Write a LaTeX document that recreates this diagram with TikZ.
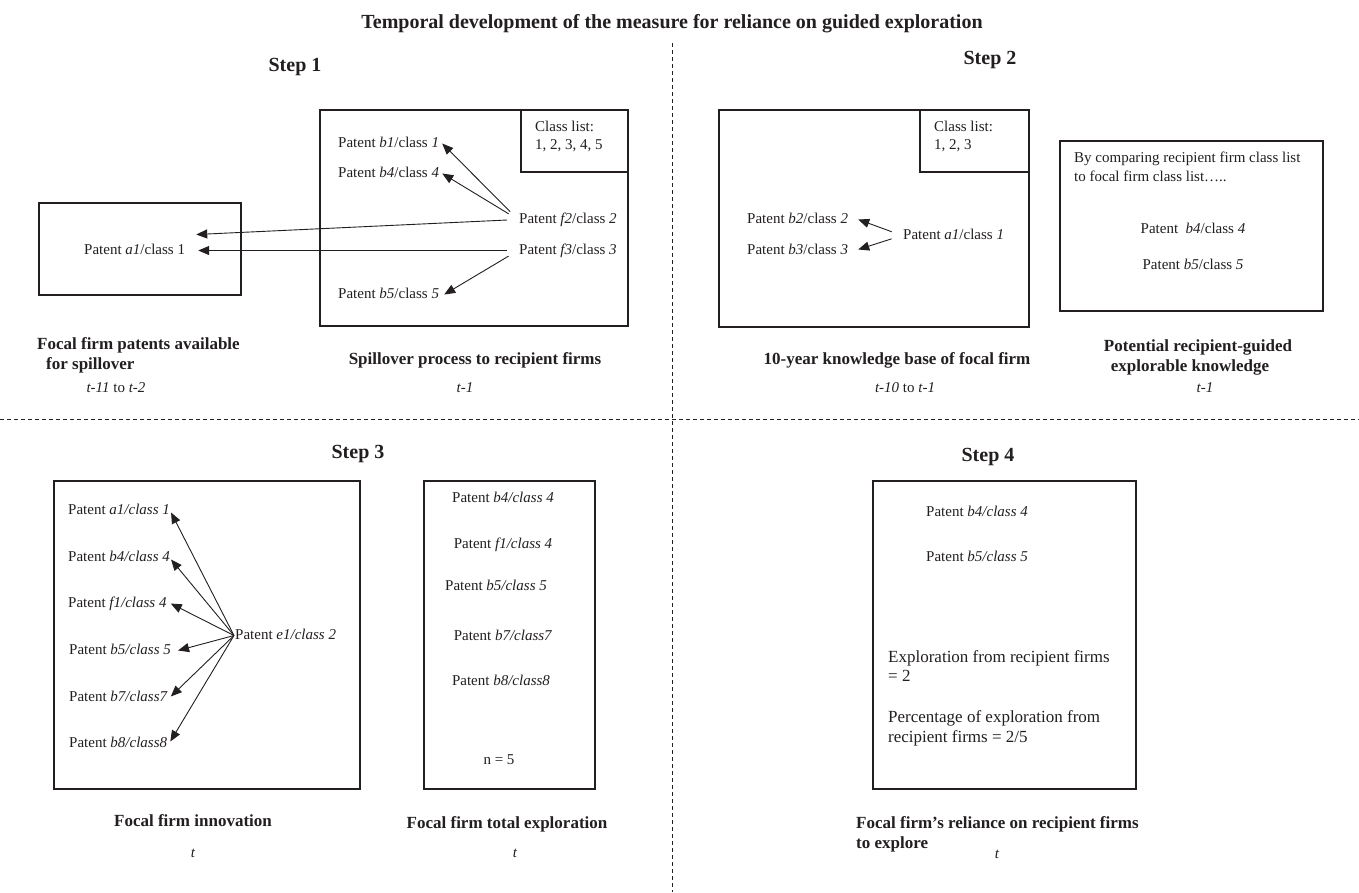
\documentclass[tikz,border=0pt]{standalone}
\usepackage{fontspec}
\setmainfont{Liberation Serif}
\usetikzlibrary{arrows.meta,calc}
\definecolor{ink}{RGB}{35,31,32}
\newcommand\ftxt{\fontsize{15}{18}\selectfont}
\newcommand\fbig{\fontsize{17}{20}\selectfont}
\newcommand\flab{\bfseries\fontsize{17}{20}\selectfont}
\newcommand\fhead{\bfseries\fontsize{20}{24}\selectfont}
\tikzset{
  tx/.style={font=\ftxt, text=ink, inner sep=1pt, text height=10.5pt, text depth=3.5pt},
  bigtx/.style={font=\fbig, text=ink, inner sep=1pt},
  lab/.style={font=\flab, text=ink, inner sep=1pt},
  head/.style={font=\fhead, text=ink, inner sep=1pt},
  frame/.style={draw=ink, line width=1.1pt},
  arr/.style={draw=ink, line width=0.9pt, -{Triangle[length=11pt,width=9pt]}},
  sepline/.style={draw=ink, line width=0.7pt, dash pattern=on 4pt off 3pt}
}
\begin{document}
\begin{tikzpicture}[x=1pt,y=-1pt]
\useasboundingbox[fill=white] (0,0) rectangle (1359,892);

% separators
\draw[sepline] (672,43) -- (672,892);
\draw[sepline] (0,419) -- (1359,419);

% title and step headings
\node[head, anchor=base] (title) at (672,28) {Temporal development of the measure for reliance on guided exploration};
\node[head, anchor=base] (step1) at (295,71) {Step 1};
\node[head, anchor=base] (step2) at (990,64) {Step 2};
\node[head, anchor=base] (step3) at (358,458) {Step 3};
\node[head, anchor=base] (step4) at (988,461) {Step 4};

% ---------------- Step 1 ----------------
\draw[frame] (39,203) rectangle (241,295);
\draw[frame] (320,110) rectangle (628,326);
\draw[frame] (521,110) rectangle (628,172);
\node[tx, anchor=base west] (cl1a) at (534,131) {Class list:};
\node[tx, anchor=base west] (cl1b) at (534,149) {1, 2, 3, 4, 5};

\node[tx, anchor=base west] (a1L) at (83,254) {Patent \textit{a1}/class 1};
\node[tx, anchor=base west] (b1) at (337,147) {Patent \textit{b1}/class \textit{1}};
\node[tx, anchor=base west] (b4) at (337,177) {Patent \textit{b4}/class \textit{4}};
\node[tx, anchor=base west] (f2) at (518,223) {Patent \textit{f2}/class \textit{2}};
\node[tx, anchor=base west] (f3) at (518,254) {Patent \textit{f3}/class \textit{3}};
\node[tx, anchor=base west] (b5) at (337,298) {Patent \textit{b5}/class \textit{5}};

\draw[arr, shorten <=11pt] (f2.west) -- ($(b1.east)+(2,0)$);
\draw[arr, shorten <=11pt] (f2.west) -- ($(b4.east)+(2,0)$);
\draw[arr, shorten <=11pt] (f2.west) -- ($(a1L.east)+(10,-16)$);
\draw[arr, shorten <=11pt] (f3.west) -- ($(a1L.east)+(12,0)$);
\draw[arr, shorten <=11pt] (f3.west) -- ($(b5.east)+(4,0)$);

\node[lab, anchor=base west] (l1a) at (36,349) {Focal firm patents available};
\node[lab, anchor=base west] (l1b) at (45,369) {for spillover};
\node[tx, anchor=base] (t1a) at (116,392) {\textit{t-11} to \textit{t-2}};
\node[lab, anchor=base] (l1c) at (475,364) {Spillover process to recipient firms};
\node[tx, anchor=base] (t1b) at (465,392) {\textit{t-1}};

% ---------------- Step 2 ----------------
\draw[frame] (719,110) rectangle (1029,327);
\draw[frame] (920,110) rectangle (1029,172);
\node[tx, anchor=base west] (cl2a) at (933,131) {Class list:};
\node[tx, anchor=base west] (cl2b) at (933,149) {1, 2, 3};

\node[tx, anchor=base west] (b2) at (746,223) {Patent \textit{b2}/class \textit{2}};
\node[tx, anchor=base west] (b3) at (746,254) {Patent \textit{b3}/class \textit{3}};
\node[tx, anchor=base west] (a1K) at (902,239) {Patent \textit{a1}/class \textit{1}};
\draw[arr, shorten <=11pt] (a1K.west) -- ($(b2.east)+(9,0)$);
\draw[arr, shorten <=11pt] (a1K.west) -- ($(b3.east)+(9,-1)$);

\draw[frame] (1060,141) rectangle (1323,311);
\node[tx, anchor=base west] (cmpa) at (1073,162) {By comparing recipient firm class list};
\node[tx, anchor=base west] (cmpb) at (1073,181) {to focal firm class list…..};
\node[tx, anchor=base] (pb4) at (1193,233) {Patent \ \textit{b4}/class \textit{4}};
\node[tx, anchor=base] (pb5) at (1193,269) {Patent \textit{b5}/class \textit{5}};

\node[lab, anchor=base] (l2a) at (897,364) {10-year knowledge base of focal firm};
\node[tx, anchor=base] (t2a) at (905,392) {\textit{t-10} to \textit{t-1}};
\node[lab, anchor=base] (l2b) at (1198,351) {Potential recipient-guided};
\node[lab, anchor=base] (l2c) at (1190,371) {explorable knowledge};
\node[tx, anchor=base] (t2b) at (1205,392) {\textit{t-1}};

% ---------------- Step 3 ----------------
\draw[frame] (54,481) rectangle (360,789);
\node[tx, anchor=base west] (s3a1) at (67,514) {Patent \textit{a1/class 1}};
\node[tx, anchor=base west] (s3b4) at (67,561) {Patent \textit{b4/class 4}};
\node[tx, anchor=base west] (s3f1) at (67,607) {Patent \textit{f1/class 4}};
\node[tx, anchor=base west] (s3b5) at (68,654) {Patent \textit{b5/class 5}};
\node[tx, anchor=base west] (s3b7) at (68,701) {Patent \textit{b7/class7}};
\node[tx, anchor=base west] (s3b8) at (68,747) {Patent \textit{b8/class8}};
\node[tx, anchor=base west] (s3e1) at (234,639) {Patent \textit{e1/class 2}};
\draw[arr] (s3e1.west) -- ($(s3a1.east)+(0,2)$);
\draw[arr] (s3e1.west) -- ($(s3b4.east)+(0,2)$);
\draw[arr] (s3e1.west) -- ($(s3f1.east)+(3,0)$);
\draw[arr] (s3e1.west) -- ($(s3b5.east)+(6,0)$);
\draw[arr] (s3e1.west) -- ($(s3b7.east)+(2,-1)$);
\draw[arr] (s3e1.west) -- ($(s3b8.east)+(2,-2)$);

\draw[frame] (424,481) rectangle (595,789);
\node[tx, anchor=base] (s3c1) at (503,502) {Patent \textit{b4/class 4}};
\node[tx, anchor=base] (s3c2) at (503,548) {Patent \textit{f1/class 4}};
\node[tx, anchor=base] (s3c3) at (496,590) {Patent \textit{b5/class 5}};
\node[tx, anchor=base] (s3c4) at (503,640) {Patent \textit{b7/class7}};
\node[tx, anchor=base] (s3c5) at (501,685) {Patent \textit{b8/class8}};
\node[tx, anchor=base] (s3n) at (499,764) {n = 5};

\node[lab, anchor=base] (l3a) at (193,826) {Focal firm innovation};
\node[tx, anchor=base] (t3a) at (193,857) {\textit{t}};
\node[lab, anchor=base] (l3b) at (507,828) {Focal firm total exploration};
\node[tx, anchor=base] (t3b) at (515,857) {\textit{t}};

% ---------------- Step 4 ----------------
\draw[frame] (873,481) rectangle (1136,789);
\node[tx, anchor=base west] (s4b4) at (925,516) {Patent \textit{b4/class 4}};
\node[tx, anchor=base west] (s4b5) at (925,561) {Patent \textit{b5/class 5}};
\node[bigtx, anchor=base west] (s4e1) at (887,662) {Exploration from recipient firms};
\node[bigtx, anchor=base west] (s4e2) at (887,681) {= 2};
\node[bigtx, anchor=base west] (s4p1) at (887,722) {Percentage of exploration from};
\node[bigtx, anchor=base west] (s4p2) at (887,742) {recipient firms = 2/5};

\node[lab, anchor=base west] (l4a) at (855,828) {Focal firm’s reliance on recipient firms};
\node[lab, anchor=base west] (l4b) at (855,848) {to explore};
\node[tx, anchor=base] (t4) at (997,858) {\textit{t}};
\end{tikzpicture}
\end{document}
